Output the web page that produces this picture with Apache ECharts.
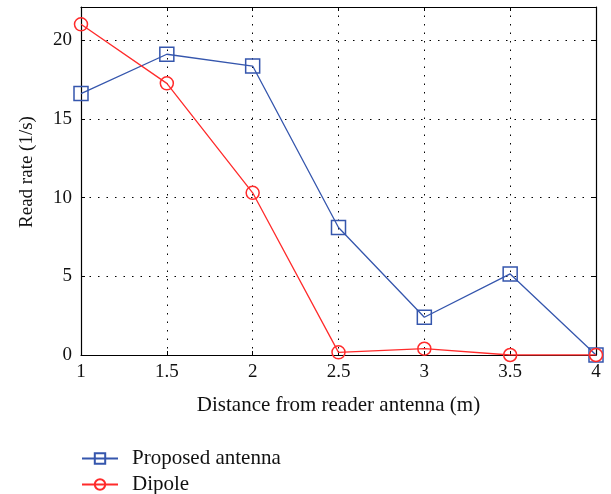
<!DOCTYPE html>
<html><head><meta charset="utf-8">
<script src="https://cdn.jsdelivr.net/npm/echarts@6/dist/echarts.min.js"></script>
<style>html,body{margin:0;padding:0;background:#fff}#c{width:611px;height:494px}</style>
</head><body><div id="c"></div>
<script>
const distances = [1, 1.5, 2, 2.5, 3, 3.5, 4];
const proposed = [16.6, 19.1, 18.35, 8.1, 2.4, 5.15, 0];
const dipole = [21.0, 17.25, 10.3, 0.17, 0.4, 0, 0];
const seriesNames = ['Proposed antenna', 'Dipole'];
const xTitle = 'Distance from reader antenna (m)';
const yTitle = 'Read rate (1/s)';

const FONT = '"Liberation Serif", "DejaVu Serif", serif';
const blue = '#3556ad';
const red = '#ff2b2b';
const chart = echarts.init(document.getElementById('c'));
const gridLine = {show: true, lineStyle: {color: '#000', type: [1.5, 7], width: 1}};
const legendBase = {
  orient: 'horizontal', left: 81, itemWidth: 36, itemHeight: 13, padding: 0,
  textStyle: {fontFamily: FONT, fontSize: 21, color: '#111', padding: [0, 0, 0, 9]}
};
chart.setOption({
  animation: false,
  backgroundColor: '#fff',
  grid: {left: 81, top: 7, right: 15, bottom: 139},
  legend: [
    Object.assign({}, legendBase, {top: 448, data: [seriesNames[0]]}),
    Object.assign({}, legendBase, {top: 474, data: [seriesNames[1]]})
  ],
  graphic: [{
    type: 'text', x: 27, y: 172, rotation: Math.PI / 2,
    style: {text: yTitle, fontFamily: FONT, fontSize: 19, fill: '#111', align: 'center', verticalAlign: 'middle'}
  }],
  xAxis: [{
    type: 'value', min: 1, max: 4, interval: 0.5,
    name: xTitle, nameLocation: 'middle', nameGap: 40,
    nameTextStyle: {fontFamily: FONT, fontSize: 21, color: '#111'},
    axisLine: {show: true, onZero: false, lineStyle: {color: '#000', width: 1.2}},
    axisTick: {show: true, inside: true, length: 4, lineStyle: {color: '#000'}},
    axisLabel: {fontFamily: FONT, fontSize: 19, color: '#111', margin: 8},
    splitLine: gridLine
  }, {
    type: 'value', min: 1, max: 4, interval: 0.5, position: 'top',
    axisLine: {show: true, onZero: false, lineStyle: {color: '#000', width: 1.2}},
    axisTick: {show: true, inside: true, length: 4, lineStyle: {color: '#000'}},
    axisLabel: {show: false}, splitLine: {show: false}
  }],
  yAxis: [{
    type: 'value', min: 0, max: 22.1, interval: 5,
    axisLine: {show: true, onZero: false, lineStyle: {color: '#000', width: 1.2}},
    axisTick: {show: true, inside: true, length: 4, lineStyle: {color: '#000'}},
    axisLabel: {fontFamily: FONT, fontSize: 19, color: '#111', margin: 9,
      formatter: v => (v % 5 === 0 ? String(v) : '')},
    splitLine: gridLine
  }, {
    type: 'value', min: 0, max: 22.1, interval: 5, position: 'right',
    axisLine: {show: true, onZero: false, lineStyle: {color: '#000', width: 1.2}},
    axisTick: {show: true, inside: true, length: 4, lineStyle: {color: '#000'}},
    axisLabel: {show: false}, splitLine: {show: false}
  }],
  series: [{
    name: seriesNames[0], type: 'line',
    data: distances.map((d, i) => [d, proposed[i]]),
    symbol: 'rect', symbolSize: 14,
    lineStyle: {color: blue, width: 1.3},
    itemStyle: {color: 'rgba(255,255,255,0)', borderColor: blue, borderWidth: 1.5},
    z: 2
  }, {
    name: seriesNames[1], type: 'line',
    data: distances.map((d, i) => [d, dipole[i]]),
    symbol: 'circle', symbolSize: 13,
    lineStyle: {color: red, width: 1.3},
    itemStyle: {color: 'rgba(255,255,255,0)', borderColor: red, borderWidth: 1.5},
    z: 3
  }]
});
</script></body></html>
